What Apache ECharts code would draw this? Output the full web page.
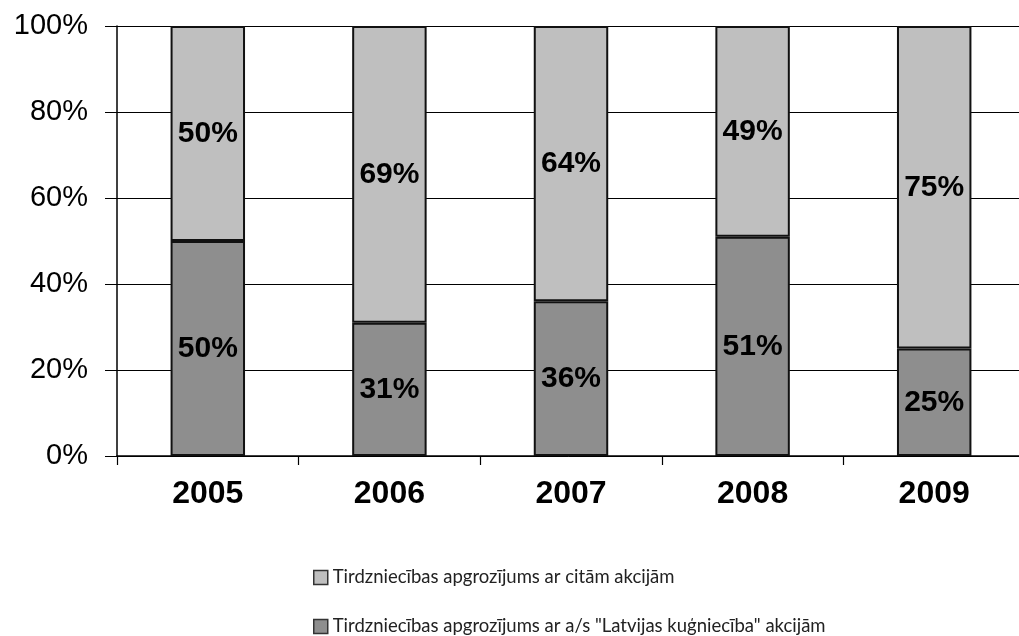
<!DOCTYPE html>
<html>
<head>
<meta charset="utf-8">
<script src="https://cdn.jsdelivr.net/npm/echarts@6/dist/echarts.min.js"></script>
<style>
html,body{margin:0;padding:0;background:#fff;}
#c{width:1019px;height:636px;}
</style>
</head>
<body>
<div id="c"></div>
<script>
const categories = ['2005', '2006', '2007', '2008', '2009'];
const seriesNames = ['Tirdzniecības apgrozījums ar a/s "Latvijas kuģniecība" akcijām', 'Tirdzniecības apgrozījums ar citām akcijām'];
const latvijasKugnieciba = [50, 31, 36, 51, 25];
const citasAkcijas = [50, 69, 64, 49, 75];
const yTicks = [0, 20, 40, 60, 80, 100];

const chart = echarts.init(document.getElementById('c'), null, {renderer: 'canvas'});
const labelStyle = {
  show: true,
  position: 'inside',
  formatter: p => p.value + '%',
  color: '#000',
  fontFamily: 'Liberation Sans, Arial, sans-serif',
  fontWeight: 'bold',
  fontSize: 30
};
const legendText = {fontFamily: 'Lato, Noto Sans, sans-serif', fontSize: 18.5, color: '#222'};
const legendBase = {
  orient: 'vertical',
  left: 308,
  itemWidth: 14,
  itemHeight: 14,
  icon: 'rect',
  itemStyle: {borderColor: '#333', borderWidth: 1.5},
  textStyle: legendText
};
chart.setOption({
  animation: false,
  backgroundColor: '#fff',
  grid: {left: 117, width: 908, top: 26, height: 430, containLabel: false, outerBoundsMode: 'none'},
  legend: [
    Object.assign({}, legendBase, {top: 563, data: [seriesNames[1]]}),
    Object.assign({}, legendBase, {top: 612, data: [seriesNames[0]]})
  ],
  xAxis: {
    type: 'category',
    data: categories,
    boundaryGap: true,
    axisLine: {show: true, lineStyle: {color: '#000', width: 1.5}},
    axisTick: {show: true, length: 9, lineStyle: {color: '#000', width: 1.2}},
    axisLabel: {
      margin: 22,
      color: '#000',
      fontFamily: 'Liberation Sans, Arial, sans-serif',
      fontWeight: 'bold',
      fontSize: 32
    },
    splitLine: {show: false}
  },
  yAxis: [{
    type: 'value',
    min: 0,
    max: 100,
    interval: 20,
    axisLine: {show: true, lineStyle: {color: '#000', width: 1.5}},
    axisTick: {show: true, length: 12, lineStyle: {color: '#000', width: 1}},
    axisLabel: {
      margin: 29,
      color: '#000',
      fontFamily: 'Liberation Sans, Arial, sans-serif',
      fontSize: 29,
      formatter: v => yTicks.includes(v) ? v + '%' : ''
    },
    splitLine: {show: true, lineStyle: {color: '#000', width: 1}}
  }, {
    type: 'value',
    position: 'left',
    min: 0,
    max: 100,
    interval: 20,
    axisLine: {show: false},
    axisTick: {show: true, inside: true, length: 12, lineStyle: {color: '#000', width: 1}},
    axisLabel: {show: false},
    splitLine: {show: false}
  }],
  series: [{
    name: seriesNames[0],
    type: 'bar',
    stack: 'total',
    data: latvijasKugnieciba,
    barWidth: '41%',
    itemStyle: {color: '#8e8e8e', borderColor: '#111', borderWidth: 2},
    label: labelStyle
  }, {
    name: seriesNames[1],
    type: 'bar',
    stack: 'total',
    data: citasAkcijas,
    barWidth: '41%',
    itemStyle: {color: '#bfbfbf', borderColor: '#111', borderWidth: 2},
    label: labelStyle
  }]
});
</script>
</body>
</html>
